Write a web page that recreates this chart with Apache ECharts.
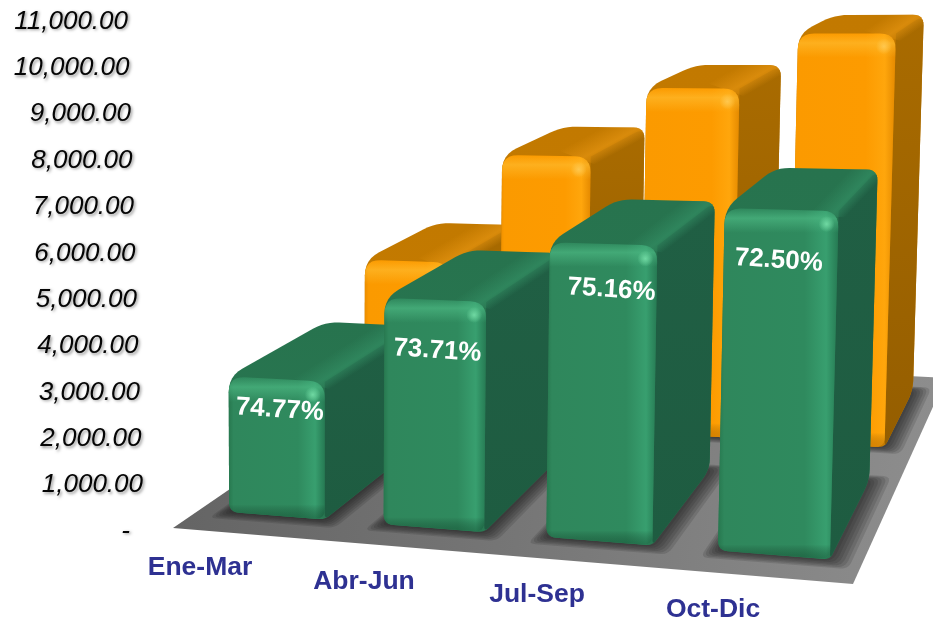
<!DOCTYPE html>
<html>
<head>
<meta charset="utf-8">
<style>
  html, body { margin: 0; padding: 0; background: #fff; }
  #chart { width: 933px; height: 622px; }
</style>
</head>
<body>
<div id="chart"></div>
<script src="https://cdn.jsdelivr.net/npm/echarts@6/dist/echarts.min.js"></script>
<script>
  const categories = ['Ene-Mar', 'Abr-Jun', 'Jul-Sep', 'Oct-Dic']
  const orangeValues = [4000, 6750, 8460, 9790]
  const greenValues = [2990, 4865, 6170, 6975]
  const percentLabels = ['74.77%', '73.71%', '75.16%', '72.50%']
  const tickValues = [0, 1000, 2000, 3000, 4000, 5000, 6000, 7000, 8000, 9000, 10000, 11000]
  const tickLabels = ['-', '1,000.00', '2,000.00', '3,000.00', '4,000.00', '5,000.00', '6,000.00',
    '7,000.00', '8,000.00', '9,000.00', '10,000.00', '11,000.00']

  // flat grid that the scales work on, the floor below is the same grid seen in perspective
  const gridLeft = 173
  const gridWidth = 680
  const gridTop = 20
  const gridHeight = 510
  const gridBottom = gridTop + gridHeight

  const floorA = [173, 528]
  const floorB = [853, 584]
  const floorC = [946, 378]
  const floorD = [430, 352]

  const sx = floorA[0] - floorB[0] + floorC[0] - floorD[0]
  const sy = floorA[1] - floorB[1] + floorC[1] - floorD[1]
  const dx1 = floorB[0] - floorC[0]
  const dx2 = floorD[0] - floorC[0]
  const dy1 = floorB[1] - floorC[1]
  const dy2 = floorD[1] - floorC[1]
  const den = dx1 * dy2 - dx2 * dy1
  const hg = (sx * dy2 - dx2 * sy) / den
  const hh = (dx1 * sy - sx * dy1) / den
  const ha = floorB[0] - floorA[0] + hg * floorB[0]
  const hb = floorD[0] - floorA[0] + hh * floorD[0]
  const hd = floorB[1] - floorA[1] + hg * floorB[1]
  const he = floorD[1] - floorA[1] + hh * floorD[1]

  const leanCenter = 300
  const lean = 0.000047

  // u, w are 0..1 on the floor, h is height in grid pixels
  function project(u, w, h) {
    const q = hg * u + hh * w + 1
    const x = (ha * u + hb * w + floorA[0]) / q
    const y = (hd * u + he * w + floorA[1]) / q
    const hp = h / q
    return [x + (x - leanCenter) * lean * hp, y - hp]
  }

  // radii may be one number or one per corner
  function roundPoly(pts, radii) {
    const out = []
    for (let i = 0; i < pts.length; i++) {
      const r = Array.isArray(radii) ? radii[i] : radii
      const p = pts[i]
      if (!r) {
        out.push(p)
        continue
      }
      const a = pts[(i + pts.length - 1) % pts.length]
      const b = pts[(i + 1) % pts.length]
      const la = Math.hypot(a[0] - p[0], a[1] - p[1])
      const lb = Math.hypot(b[0] - p[0], b[1] - p[1])
      const ra = Math.min(r, la / 2) / la
      const rb = Math.min(r, lb / 2) / lb
      const s = [p[0] + (a[0] - p[0]) * ra, p[1] + (a[1] - p[1]) * ra]
      const e = [p[0] + (b[0] - p[0]) * rb, p[1] + (b[1] - p[1]) * rb]
      for (let k = 0; k <= 6; k++) {
        const t = k / 6
        out.push([
          (1 - t) * (1 - t) * s[0] + 2 * t * (1 - t) * p[0] + t * t * e[0],
          (1 - t) * (1 - t) * s[1] + 2 * t * (1 - t) * p[1] + t * t * e[1]
        ])
      }
    }
    return out
  }

  function linear(x0, y0, x1, y1, stops, global) {
    return new echarts.graphic.LinearGradient(x0, y0, x1, y1,
      stops.map(s => ({ offset: s[0], color: s[1] })), global)
  }

  const orangeLook = {
    wFront: 0.58, wBack: 0.91, uShift: 0,
    front: ['#e98c00', '#fb9a00', '#fd9b00', '#ffa60c', '#e58a00'],
    topA: '#c67c00', topB: '#c27900',
    ridge: 'rgba(226,146,16,0.95)', ridgeOff: 'rgba(226,146,16,0)',
    sideA: '#a96b00', sideB: '#955e00',
    glow: 'rgba(255,190,50,0.6)', glowOff: 'rgba(255,190,50,0)',
    spot: 'rgba(255,205,90,0.8)', spotOff: 'rgba(255,205,90,0)',
    sink: 'rgba(150,85,0,0.35)'
  }
  const greenLook = {
    wFront: 0.08, wBack: 0.415, uShift: 0.002,
    front: ['#27784f', '#2f875c', '#2f8a5e', '#389f6f', '#267a53'],
    topA: '#297852', topB: '#27734e',
    ridge: 'rgba(50,140,98,0.95)', ridgeOff: 'rgba(50,140,98,0)',
    sideA: '#205f44', sideB: '#1e5c41',
    glow: 'rgba(80,190,135,0.6)', glowOff: 'rgba(80,190,135,0)',
    spot: 'rgba(120,225,170,0.85)', spotOff: 'rgba(120,225,170,0)',
    sink: 'rgba(10,60,35,0.4)'
  }
  const barHalf = 0.078
  const labelNudge = [[3, 31], [2, 51], [8, 46], [-3, 51]]
  const categoryNudge = [-58, -64, -61, -55]

  function barRenderer(look, labels) {
    return function (params, api) {
      const i = api.value(0)
      const top = api.coord([i, api.value(1)])
      const h = gridBottom - top[1]
      const uc = (top[0] - gridLeft) / gridWidth + look.uShift
      const u0 = uc - barHalf
      const u1 = uc + barHalf
      const w0 = look.wFront
      const w1 = look.wBack

      const fl = project(u0, w0, h)
      const fr = project(u1, w0, h)
      const bl = project(u0, w1, h)
      const br = project(u1, w1, h)
      const fl0 = project(u0, w0, 0)
      const fr0 = project(u1, w0, 0)
      const br0 = project(u1, w1, 0)
      const faceH = fr0[1] - fr[1]

      const frontPts = roundPoly([fl, fr, fr0, fl0], [16, 16, 10, 10])
      const outline = roundPoly([fl0, fl, bl, br, br0, fr0], [10, 16, 14, 11, 11, 6])
      const band = 24 / faceH

      // ridge between the top and the side, gradient runs across it
      const el = Math.hypot(br[0] - fr[0], br[1] - fr[1])
      const dx = (br[0] - fr[0]) / el
      const dy = (br[1] - fr[1]) / el
      const nx = dy
      const ny = -dx
      const rs = [fr[0] - nx * 9, fr[1] - ny * 9]
      const re = [fr[0] + nx * 20, fr[1] + ny * 20]

      const children = []
      // soft shadow on the floor, stacked see-through footprints
      for (let k = 6; k >= 1; k--) {
        children.push({
          type: 'polygon',
          shape: {
            points: roundPoly([
              project(u0 - k * 0.003, w0 - k * 0.005, 0),
              project(u1 + k * 0.005, w0 - k * 0.005, 0),
              project(u1 + k * 0.005, w1 + k * 0.004, 0),
              project(u0 - k * 0.003, w1 + k * 0.004, 0)
            ], 8)
          },
          style: { fill: 'rgba(25,25,25,0.15)' }
        })
      }
      children.push(
        {
          // whole outline, this is what shows as the top face
          type: 'polygon',
          shape: { points: outline },
          style: { fill: linear(0, 1, 0, 0, [[0, look.topA], [1, look.topB]]) }
        },
        {
          type: 'polygon',
          shape: { points: roundPoly([fr, br, br0, fr0], [0, 11, 11, 6]) },
          style: { fill: linear(0, 0, 0, 1, [[0, look.sideA], [1, look.sideB]]) }
        },
        {
          type: 'polygon',
          shape: {
            points: [
              rs,
              [rs[0] + dx * el, rs[1] + dy * el],
              [re[0] + dx * el, re[1] + dy * el],
              [re[0] - dx * 25, re[1] - dy * 25]
            ]
          },
          clipPath: { type: 'polygon', shape: { points: outline } },
          style: {
            fill: linear(rs[0], rs[1], re[0], re[1], [[0, look.ridgeOff], [0.4, look.ridge], [1, look.ridgeOff]], true),
            opacity: 0.75
          }
        },
        {
          type: 'polygon',
          shape: { points: frontPts },
          style: { fill: linear(0, 0, 1, 0, [[0, look.front[0]], [0.05, look.front[1]], [0.72, look.front[2]], [0.9, look.front[3]], [1, look.front[4]]]) }
        },
        {
          type: 'polygon',
          shape: { points: frontPts },
          style: { fill: linear(0, 0, 0, 1, [[0, look.glowOff], [band * 0.4, look.glow], [band, look.glowOff], [1, look.glowOff]]) }
        },
        {
          type: 'polygon',
          shape: { points: frontPts },
          style: { fill: linear(0, 0, 0, 1, [[0, 'rgba(0,0,0,0)'], [1 - 14 / faceH, 'rgba(0,0,0,0)'], [1, look.sink]]) }
        },
        {
          type: 'circle',
          shape: { cx: fr[0] - 12, cy: fr[1] + 13, r: 8 },
          style: {
            fill: new echarts.graphic.RadialGradient(0.5, 0.5, 0.5, [
              { offset: 0, color: look.spot },
              { offset: 1, color: look.spotOff }
            ])
          }
        }
      )
      if (labels) {
        children.push({
          type: 'text',
          x: (fl[0] + fr[0]) / 2 + labelNudge[i][0],
          y: (fl[1] + fr[1]) / 2 + labelNudge[i][1],
          rotation: -0.065,
          style: {
            text: labels[i],
            fill: '#fff',
            font: 'bold 26px "Liberation Sans", Arial, sans-serif',
            align: 'center',
            verticalAlign: 'middle'
          }
        })
      }
      return { type: 'group', children: children }
    }
  }

  function renderFloor() {
    const pts = [project(0, 0, 0), project(1, 0, 0), project(1, 1, 0), project(0, 1, 0)]
    return {
      type: 'polygon',
      shape: { points: pts },
      style: { fill: linear(0, 0.4, 1, 0.6, [[0, '#646464'], [0.45, '#767676'], [1, '#8e8e8e']]) }
    }
  }

  function renderTick(params, api) {
    const i = params.dataIndex
    const y = api.coord([0, api.value(1)])[1]
    let x = 143 - (484 - y) * (15 / 464)
    if (api.value(1) === 0) {
      x = 130
    }
    return {
      type: 'text',
      x: x,
      y: y + 1.5,
      style: {
        text: tickLabels[i],
        fill: '#050505',
        font: 'italic 26px "Liberation Sans", Arial, sans-serif',
        align: 'right',
        verticalAlign: 'middle',
        textShadowColor: 'rgba(0,0,0,0.4)',
        textShadowBlur: 3,
        textShadowOffsetX: 1.5,
        textShadowOffsetY: 1.5
      }
    }
  }

  function renderCategory(params, api) {
    const c = api.coord([api.value(0), 0])
    const x = c[0] + categoryNudge[params.dataIndex]
    return {
      type: 'text',
      x: x,
      y: 568 + (x - 199) * 0.0802,
      style: {
        text: categories[params.dataIndex],
        fill: '#2e3192',
        font: 'bold 26.5px "Liberation Sans", Arial, sans-serif',
        align: 'center',
        verticalAlign: 'middle'
      }
    }
  }

  const chart = echarts.init(document.getElementById('chart'), null, { renderer: 'canvas' })
  chart.setOption({
    backgroundColor: '#fff',
    animation: false,
    grid: { left: gridLeft, top: gridTop, width: gridWidth, height: gridHeight },
    xAxis: { type: 'category', data: categories, show: false },
    yAxis: { type: 'value', min: 0, max: 11000, interval: 1000, show: false },
    series: [
      { type: 'custom', silent: true, clip: false, renderItem: renderFloor, data: [[0, 0]], z: 1 },
      {
        type: 'custom', silent: true, clip: false, z: 2,
        renderItem: barRenderer(orangeLook, null),
        data: orangeValues.map((v, i) => [i, v])
      },
      {
        type: 'custom', silent: true, clip: false, z: 3,
        renderItem: barRenderer(greenLook, percentLabels),
        data: greenValues.map((v, i) => [i, v])
      },
      {
        type: 'custom', silent: true, clip: false, z: 4,
        renderItem: renderTick,
        data: tickValues.map(v => [0, v])
      },
      {
        type: 'custom', silent: true, clip: false, z: 4,
        renderItem: renderCategory,
        data: categories.map((c, i) => [i, 0])
      }
    ]
  })
</script>
</body>
</html>
